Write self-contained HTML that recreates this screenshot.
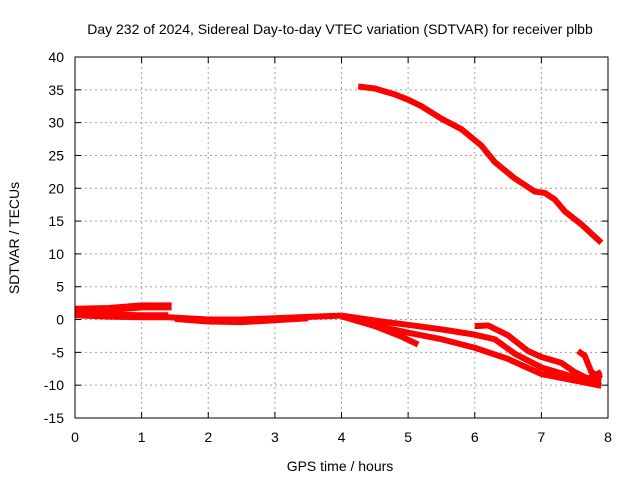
<!DOCTYPE html>
<html><head><meta charset="utf-8"><style>
html,body{margin:0;padding:0;background:#fff;}
svg{display:block;font-family:"Liberation Sans",sans-serif;}
</style></head><body>
<svg id="chart" width="640" height="480">
<text x="340" y="34" text-anchor="middle" font-size="14">Day 232 of 2024, Sidereal Day-to-day VTEC variation (SDTVAR) for receiver plbb</text>
<g id="grid"></g>
<g id="ticks"></g>
<g id="series"></g>
<rect x="75" y="57" width="533" height="361" fill="none" stroke="#000" stroke-width="1"/>
<text x="340" y="471" text-anchor="middle" font-size="14">GPS time / hours</text>
<text x="19" y="238" text-anchor="middle" font-size="14" transform="rotate(-90 19 238)">SDTVAR / TECUs</text>
</svg>
<script>
const xTicks=[0,1,2,3,4,5,6,7,8];
const yTicks=[-15,-10,-5,0,5,10,15,20,25,30,35,40];
const seriesTop=[[4.25,35.5],[4.5,35.2],[4.8,34.3],[5.0,33.5],[5.2,32.5],[5.5,30.6],[5.8,29],[6.1,26.5],[6.3,24],[6.6,21.5],[6.9,19.5],[7.05,19.3],[7.2,18.3],[7.35,16.5],[7.6,14.5],[7.9,11.7]];
const seriesEarly=[[0,1.5],[0.5,1.6],[1,2.0],[1.45,2.0]];
const seriesEarly2=[[0,0.8],[0.5,0.6],[1.0,0.5],[1.4,0.5]];
const seriesMain=[[0,1.2],[0.5,0.8],[1,0.6],[1.5,0.3],[2,0],[2.5,0],[3,0.2],[3.5,0.4],[4,0.6]];
const seriesMain2=[[1.5,0.1],[2,-0.3],[2.5,-0.4],[3,-0.1],[3.5,0.2]];
const branch1=[[4,0.5],[4.5,-1],[4.9,-2.6],[5.15,-3.8]];
const branch2=[[4,0.6],[4.6,-0.3],[5,-0.8],[5.5,-1.5],[6,-2.3],[6.3,-3],[6.6,-5.2],[7,-7.3],[7.5,-8.8],[7.9,-9.3]];
const branch3=[[4,0.5],[4.5,-0.9],[5,-2],[5.5,-3],[6,-4.3],[6.5,-6],[7,-8.3],[7.5,-9.3],[7.9,-10.1]];
const branch4=[[6,-1],[6.2,-0.9],[6.5,-2.4],[6.8,-4.8],[7,-5.7],[7.3,-6.6],[7.5,-8],[7.7,-9],[7.9,-8]];
const branch5=[[7.55,-4.8],[7.65,-5.5],[7.75,-8],[7.9,-9]];
const allSeries=[seriesTop,seriesEarly,seriesEarly2,seriesMain,seriesMain2,branch1,branch2,branch3,branch4,branch5];
const X=v=>75+v*533/8, Y=v=>57+(40-v)*361/55;
const NS="http://www.w3.org/2000/svg";
const grid=document.getElementById('grid'),ticks=document.getElementById('ticks'),ser=document.getElementById('series');
function mk(tag,attrs,parent){const e=document.createElementNS(NS,tag);for(const k in attrs)e.setAttribute(k,attrs[k]);parent.appendChild(e);return e;}
xTicks.forEach(t=>{
 if(t>0&&t<8){const l=mk('line',{x1:X(t),x2:X(t),y1:57,y2:418,stroke:'#a0a0a0','stroke-dasharray':'2,3'},grid);
 
 }
 const tx=mk('text',{x:X(t),y:442,'text-anchor':'middle','font-size':14},ticks);tx.textContent=t;
 
 
 mk('line',{x1:X(t),x2:X(t),y1:418,y2:412,stroke:'#000'},ticks);
 mk('line',{x1:X(t),x2:X(t),y1:57,y2:63,stroke:'#000'},ticks);
});
yTicks.forEach(t=>{
 if(t>-15&&t<40){const l=mk('line',{x1:75,x2:608,y1:Y(t),y2:Y(t),stroke:'#a0a0a0','stroke-dasharray':'2,3'},grid);
 
 }
 const tx=mk('text',{x:64,y:Y(t)+5,'text-anchor':'end','font-size':14},ticks);tx.textContent=t;
 
 
 mk('line',{x1:75,x2:81,y1:Y(t),y2:Y(t),stroke:'#000'},ticks);
 mk('line',{x1:602,x2:608,y1:Y(t),y2:Y(t),stroke:'#000'},ticks);
});
allSeries.forEach((s,i)=>{
 const p=mk('polyline',{points:s.map(d=>X(d[0])+','+Y(d[1])).join(' '),fill:'none',stroke:'#ff0000','stroke-width':(i==1||i==2)?8:6,'stroke-linejoin':'round'},ser);
 
 
});
</script>
</body></html>
